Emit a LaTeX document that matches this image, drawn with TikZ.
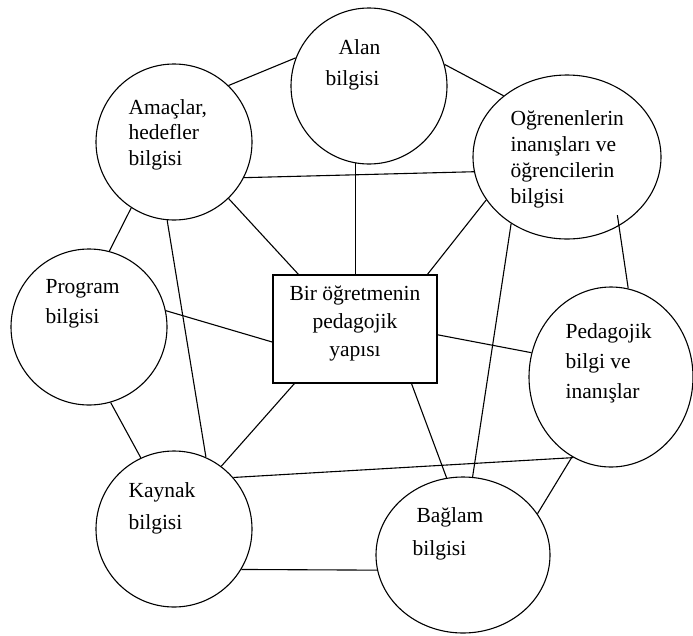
\documentclass[tikz,border=0pt]{standalone}
\usepackage{fontspec}
\setmainfont{Liberation Serif}
\usetikzlibrary{shapes.geometric}

\begin{document}
\begin{tikzpicture}[x=1pt,y=-1pt,line width=1.1pt,
    daire/.style={draw,circle,inner sep=0pt,minimum size=156pt},
    elips/.style={draw,ellipse,inner sep=0pt},
    kutu/.style={draw,rectangle,inner sep=0pt,minimum width=164pt,minimum height=108pt},
    yazi/.style={font=\fontsize{21.5}{27}\selectfont,inner sep=0pt,align=left,anchor=north west}]

    \useasboundingbox (0,0) rectangle (693,635);

    % Knowledge areas
    \node [daire] (alan) at (369,86) {};
    \node [daire] (amac) at (174,142) {};
    \node [elips,minimum width=188pt,minimum height=164pt] (ogr) at (567,157) {};
    \node [daire] (prog) at (89,327) {};
    \node [elips,minimum width=164pt,minimum height=180pt] (ped) at (611,377) {};
    \node [daire] (kay) at (174,529) {};
    \node [elips,minimum width=174pt,minimum height=156pt] (bag) at (463,555) {};

    % Centre box
    \node [kutu] (yapi) at (355,329) {};

    % Texts
    \node [yazi] (alantxt) at (325,39) {\hspace*{13pt}Alan\\[4pt]bilgisi};
    \node [yazi] (amactxt) at (128,99) {Amaçlar,\\[-1.5pt]hedefler\\[-1.5pt]bilgisi};
    \node [yazi] (ogrtxt) at (510,110) {Oğrenenlerin\\[-1pt]inanışları ve\\[-1pt]öğrencilerin\\[-1pt]bilgisi};
    \node [yazi] (progtxt) at (45,279) {Program\\[3pt]bilgisi};
    \node [yazi,anchor=north,align=center] (yapitxt) at (355,285) {Bir öğretmenin\\[1pt]pedagojik\\[1pt]yapısı};
    \node [yazi] (pedtxt) at (565,323) {Pedagojik\\[3pt]bilgi ve\\[3pt]inanışlar};
    \node [yazi] (kaytxt) at (128,482) {Kaynak\\[5pt]bilgisi};
    \node [yazi] (bagtxt) at (412,507) {\hspace*{4pt}Bağlam\\[6pt]bilgisi};

    % Links from the top circles
    \draw (alan.159.4) -- (amac.46);
    \draw (alan.16.6) -- (ogr.136.3);
    \draw (alan.260.5) -- (alan.260.5 |- yapi.north);
    \draw (amac.-27.9) -- (ogr.189.7);
    \draw (amac.-46.5) -- (yapi.136.5);
    \draw (amac.237.3) -- (prog.75.1);
    \draw (amac.265) -- (kay.66.7);

    % Links on the left
    \draw (prog.12.5) -- (yapi.189);
    \draw (prog.-74.9) -- (kay.115.3);
    \draw (kay.53.1) -- (yapi.-138.4);
    \draw (kay.41.4) -- (ped.245.8);
    \draw (kay.-31.5) -- (bag.190.4);

    % Links on the right
    \draw (yapi.37.8) -- (ogr.208.8);
    \draw (yapi.-4.2) -- (ped.163.3);
    \draw (yapi.-44) -- (bag.102.3);
    \draw (ogr.230.1) -- (bag.83.4);
    \draw [shorten <=-11pt] (ogr.-53.6) -- (ped.79.3);
    \draw (ped.244.9) -- (bag.29.2);

\end{tikzpicture}
\end{document}
